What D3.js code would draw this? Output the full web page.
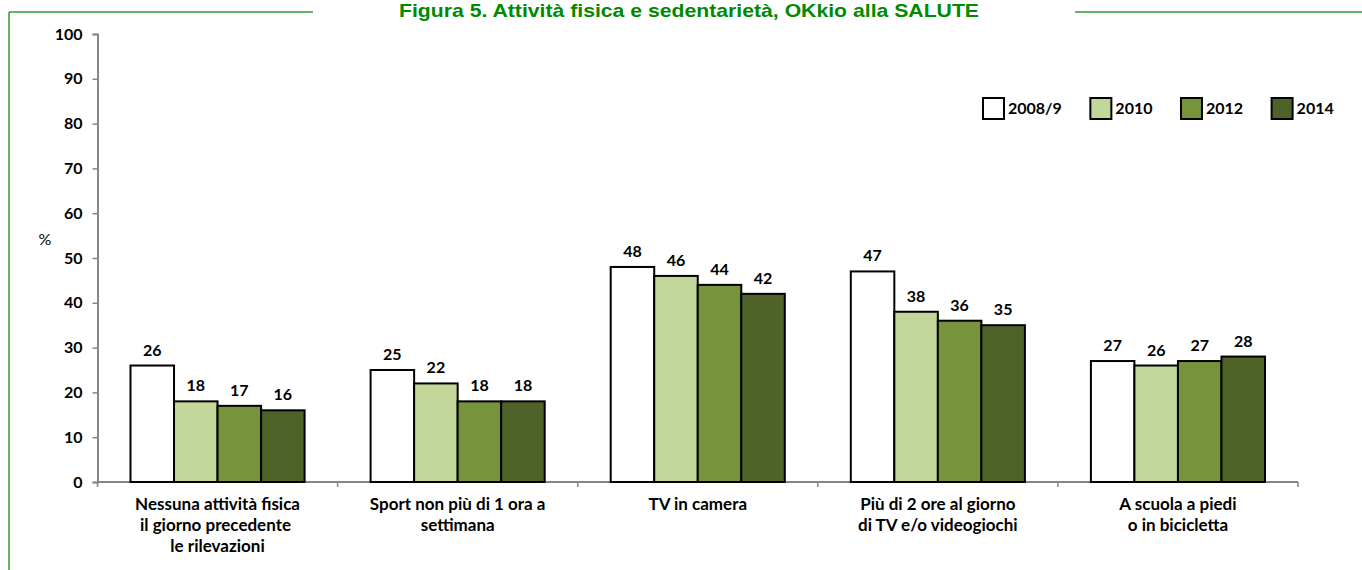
<!DOCTYPE html>
<html>
<head>
<meta charset="utf-8">
<script src="https://cdn.jsdelivr.net/npm/d3@7"></script>
<style>
  body { margin: 0; background: #fff; }
  svg { display: block; }
  text { font-family: Lato, "Open Sans", sans-serif; }
</style>
</head>
<body>
<div id="chart"></div>
<script>
// data
const categories = [
    ["Nessuna attività fisica", "il giorno precedente ", "le rilevazioni"],
    ["Sport non più di 1 ora a", "settimana"],
    ["TV in camera"],
    ["Più di 2 ore al giorno", "di TV e/o videogiochi"],
    ["A scuola a piedi", "o in bicicletta"]
];
const years = ["2008/9", "2010", "2012", "2014"];
const v2008 = [26, 25, 48, 47, 27];
const v2010 = [18, 22, 46, 38, 26];
const v2012 = [17, 18, 44, 36, 27];
const v2014 = [16, 18, 42, 35, 28];
const yTicks = [0, 10, 20, 30, 40, 50, 60, 70, 80, 90, 100];
const colors = ["#ffffff", "#c4d79b", "#77933c", "#4f6228"];

const series = [v2008, v2010, v2012, v2014];

const W = 1362, H = 570;
const svg = d3.select("#chart").append("svg")
    .attr("width", W)
    .attr("height", H);

// green frame + title
const frameCol = "#2e9e2e";
svg.append("line").attr("x1", 9).attr("x2", 9).attr("y1", 12).attr("y2", H)
    .attr("stroke", frameCol).attr("stroke-width", 1.5);
svg.append("line").attr("x1", 9).attr("x2", 313).attr("y1", 12).attr("y2", 12)
    .attr("stroke", frameCol).attr("stroke-width", 1.5);
svg.append("line").attr("x1", 1075).attr("x2", W).attr("y1", 12).attr("y2", 12)
    .attr("stroke", frameCol).attr("stroke-width", 1.5);
svg.append("text")
    .attr("x", 399).attr("y", 17)
    .attr("textLength", 580)
    .attr("lengthAdjust", "spacingAndGlyphs")
    .style("font-family", "'Liberation Sans', Arial, sans-serif")
    .style("font-size", "19px")
    .style("font-weight", "bold")
    .attr("fill", "#008a00")
    .text("Figura 5. Attività fisica e sedentarietà, OKkio alla SALUTE");

// scales
const x0 = d3.scaleBand()
    .domain(d3.range(categories.length))
    .range([97.5, 1298])
    .padding(0);
const x1 = d3.scaleBand()
    .domain(d3.range(years.length))
    .range([33, x0.bandwidth() - 33])
    .padding(0);
const y = d3.scaleLinear().domain([0, 100]).range([482, 34]);

const axisCol = "#868686";

// y axis
const yAxis = svg.append("g")
    .attr("transform", "translate(97.5,0)")
    .call(d3.axisLeft(y).tickValues(yTicks).tickSize(5).tickPadding(10));
yAxis.select(".domain").attr("stroke", axisCol).attr("stroke-width", 2);
yAxis.selectAll(".tick line").attr("stroke", axisCol).attr("stroke-width", 1.5);
yAxis.selectAll(".tick text")
    .style("font-size", "16px").style("font-weight", "bold")
    .attr("fill", "#000");

svg.append("text")
    .attr("x", 45).attr("y", 245)
    .attr("text-anchor", "middle")
    .style("font-size", "16px")
    .text("%");

// x axis (ticks between categories)
const xAxis = svg.append("g")
    .attr("transform", "translate(0,482)");
xAxis.append("line")
    .attr("x1", 97.5).attr("x2", 1298)
    .attr("stroke", axisCol).attr("stroke-width", 2);
xAxis.selectAll("line.tk")
    .data(d3.range(categories.length + 1))
    .join("line")
    .attr("class", "tk")
    .attr("x1", d => d === categories.length ? 1298 : x0(d))
    .attr("x2", d => d === categories.length ? 1298 : x0(d))
    .attr("y1", 0).attr("y2", 5)
    .attr("stroke", axisCol).attr("stroke-width", 1.5);

// bars
const groups = svg.selectAll("g.cat")
    .data(categories)
    .join("g")
    .attr("class", "cat")
    .attr("transform", (d, i) => `translate(${x0(i)},0)`);

groups.each(function (cat, ci) {
    const g = d3.select(this);
    series.forEach(function (s, si) {
        g.append("rect")
            .attr("x", x1(si))
            .attr("y", y(s[ci]))
            .attr("width", x1.bandwidth())
            .attr("height", y(0) - y(s[ci]))
            .attr("fill", colors[si])
            .attr("stroke", "#000")
            .attr("stroke-width", 2);
        g.append("text")
            .attr("x", x1(si) + x1.bandwidth() / 2)
            .attr("y", y(s[ci]) - 10)
            .attr("text-anchor", "middle")
            .style("font-size", "16px")
            .style("font-weight", "bold")
            .text(s[ci]);
    });
    // category label
    const t = g.append("text")
        .attr("text-anchor", "middle")
        .style("font-size", "17px")
        .style("font-weight", "bold")
        .style("white-space", "pre");
    cat.forEach(function (line, li) {
        t.append("tspan")
            .attr("x", x0.bandwidth() / 2)
            .attr("y", 510 + li * 21)
            .text(line);
    });
});

// legend
const legend = svg.append("g").attr("transform", "translate(983,98)");
let lx = 0;
years.forEach(function (yr, i) {
    const item = legend.append("g").attr("transform", `translate(${lx},0)`);
    item.append("rect")
        .attr("width", 21).attr("height", 21)
        .attr("fill", colors[i])
        .attr("stroke", "#000").attr("stroke-width", 2);
    const txt = item.append("text")
        .attr("x", 25).attr("y", 16)
        .style("font-size", "16px")
        .style("font-weight", "bold")
        .text(yr);
    lx += 25 + txt.node().getComputedTextLength() + 28.5;
});
</script>
</body>
</html>
